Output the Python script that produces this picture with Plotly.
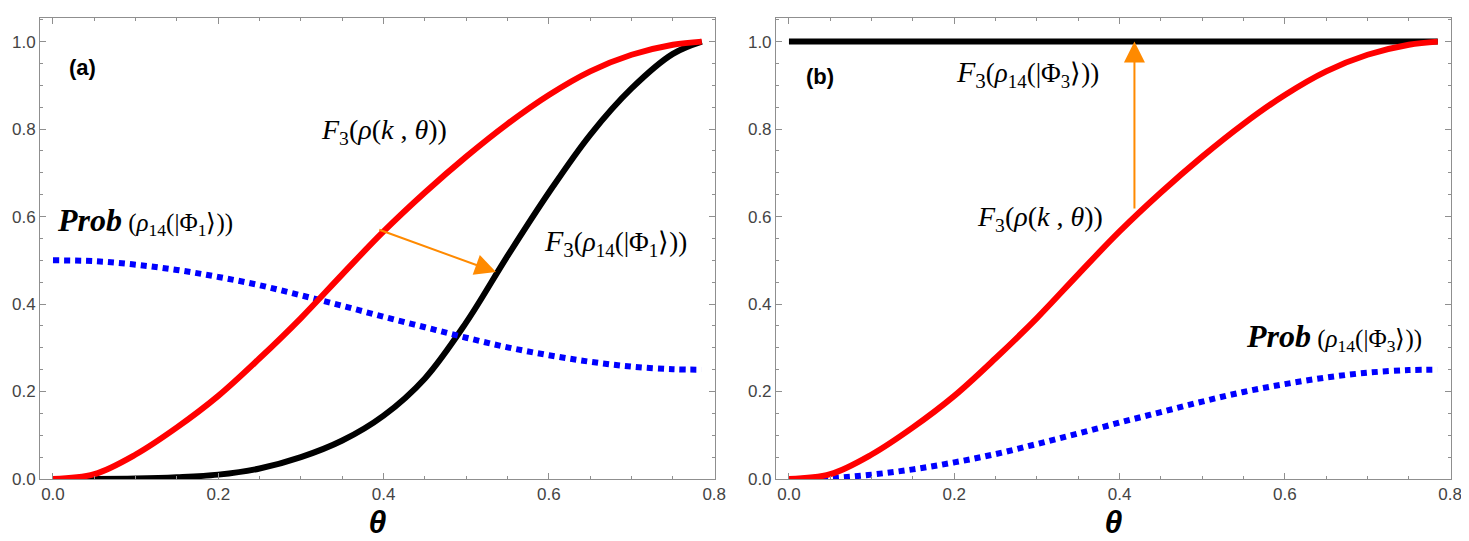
import plotly.graph_objects as go
from plotly.subplots import make_subplots

# values
theta = [0.0, 0.05, 0.10, 0.15, 0.20, 0.25, 0.30, 0.35, 0.40,
         0.45, 0.50, 0.55, 0.60, 0.65, 0.70, 0.75, 0.785]

f3_rho_k = [0.0, 0.011, 0.056, 0.118, 0.190, 0.276, 0.368, 0.468, 0.566,
            0.655, 0.737, 0.812, 0.878, 0.932, 0.970, 0.993, 1.0]

f3_phi1 = [0.0, 0.0, 0.001, 0.004, 0.010, 0.024, 0.050, 0.088, 0.145,
           0.230, 0.358, 0.510, 0.655, 0.787, 0.893, 0.972, 1.0]

prob_phi1 = [0.500, 0.498, 0.490, 0.478, 0.462, 0.443, 0.420, 0.396, 0.371,
             0.347, 0.323, 0.301, 0.283, 0.268, 0.257, 0.251, 0.250]

f3_phi3 = [1.0, 1.0, 1.0, 1.0, 1.0, 1.0, 1.0, 1.0, 1.0,
           1.0, 1.0, 1.0, 1.0, 1.0, 1.0, 1.0, 1.0]

prob_phi3 = [0.0, 0.002, 0.010, 0.022, 0.038, 0.057, 0.080, 0.104, 0.129,
             0.153, 0.177, 0.199, 0.217, 0.232, 0.243, 0.249, 0.250]

RED = "#ff0000"
BLUE = "#0000ff"
BLACK = "#000000"
ORANGE = "#ff8a00"
FRAME = "#8f8f8f"
SERIF = "Liberation Serif"

fig = make_subplots(rows=1, cols=2)


def add_curves(col, black_y, blue_y):
    fig.add_trace(go.Scatter(x=theta, y=black_y, mode="lines", line_shape="spline",
                             line=dict(color=BLACK, width=6)), row=1, col=col)
    fig.add_trace(go.Scatter(x=theta, y=blue_y, mode="lines", line_shape="spline",
                             line=dict(color=BLUE, width=6, dash="6px,5px")), row=1, col=col)
    fig.add_trace(go.Scatter(x=theta, y=f3_rho_k, mode="lines", line_shape="spline",
                             line=dict(color=RED, width=6)), row=1, col=col)


add_curves(1, f3_phi1, prob_phi1)
add_curves(2, f3_phi3, prob_phi3)

axis_common = dict(
    showline=True, linecolor=FRAME, linewidth=1, mirror="allticks",
    ticks="inside", ticklen=6, tickcolor=FRAME, tickwidth=1,
    showgrid=False, zeroline=False, automargin=False,
    tickfont=dict(family="Liberation Sans", size=17, color="#444444"),
    minor=dict(ticks="inside", ticklen=3, tickcolor=FRAME, dtick=0.05, showgrid=False),
)
fig.update_xaxes(**axis_common, range=[-0.0157, 0.801], dtick=0.2, tick0=0, tickformat=".1f",
                 title=dict(text="<b><i>θ</i></b>", standoff=0,
                            font=dict(family="Liberation Sans", size=32, color="#000000")))
fig.update_yaxes(**axis_common, range=[0, 1.054], dtick=0.2, tick0=0, tickformat=".1f")
fig.update_layout(xaxis=dict(domain=[0, 0.4784]), xaxis2=dict(domain=[0.5216, 1.0]))


def label(text, x, y, ref, size=28, xanchor="center"):
    fig.add_annotation(text=text, x=x, y=y, xref="x" + ref, yref="y" + ref,
                       showarrow=False, xanchor=xanchor, yanchor="middle",
                       font=dict(family=SERIF, size=size, color="#000000"))


def arrow(x0, y0, x1, y1, ref):
    fig.add_annotation(x=x1, y=y1, ax=x0, ay=y0, xref="x" + ref, yref="y" + ref,
                       axref="x" + ref, ayref="y" + ref, text="", showarrow=True,
                       arrowhead=2, arrowsize=2.1, arrowwidth=2, arrowcolor=ORANGE)


f3_rho_text = "<i>F</i><sub>3</sub>(<i>ρ</i>(<i>k</i> , <i>θ</i>))"
f3_phi_text = "<i>F</i><sub>3</sub>" + '<span style="font-size:27px">' + \
              "(<i>ρ</i><sub>14</sub>(|Φ<sub>{}</sub>⟩))</span>"
prob_text = '<b><i>Prob</i></b>' + '<span style="font-size:25px">' + \
            " (<i>ρ</i><sub>14</sub>(|Φ<sub>{}</sub>⟩))</span>"

# panel (a)
fig.add_annotation(text="<b>(a)</b>", x=0.036, y=0.94, xref="x", yref="y", showarrow=False,
                   font=dict(family="Liberation Sans", size=22, color="#000000"))
label(f3_rho_text, 0.40, 0.795, "")
label(prob_text.format(1), 0.003, 0.59, "", size=32, xanchor="left")
label(f3_phi_text.format(1), 0.592, 0.54, "", size=30, xanchor="left")
arrow(0.393, 0.571, 0.536, 0.473, "")

# panel (b)
fig.add_annotation(text="<b>(b)</b>", x=0.038, y=0.92, xref="x2", yref="y2", showarrow=False,
                   font=dict(family="Liberation Sans", size=22, color="#000000"))
label(f3_phi_text.format(3), 0.289, 0.925, "2", size=30)
label(f3_rho_text, 0.304, 0.595, "2")
label(prob_text.format(3), 0.659, 0.325, "2", size=32)
arrow(0.418, 0.615, 0.418, 1.0, "2")

fig.update_layout(
    width=1469, height=541,
    margin=dict(l=32, r=26, t=10, b=70),
    paper_bgcolor="white", plot_bgcolor="white",
    showlegend=False,
)

fig.write_html("out.html")
